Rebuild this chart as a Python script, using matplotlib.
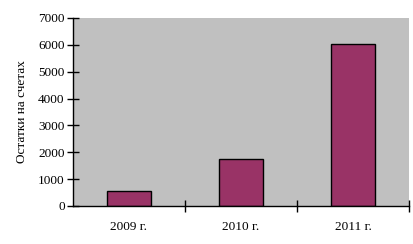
import matplotlib
matplotlib.use("Agg")
import matplotlib.pyplot as plt
from matplotlib.ticker import FixedLocator

categories = ["2009 г.", "2010 г.", "2011 г."]
values = [560, 1750, 6030]
y_ticks = [0, 1000, 2000, 3000, 4000, 5000, 6000, 7000]

plt.rcParams['font.family'] = ['Liberation Serif', 'DejaVu Serif']

fig = plt.figure(figsize=(4.14, 2.44), dpi=100)
ax = fig.add_axes([73/414, 38/244, 336/414, 188/244])
ax.set_facecolor('#C0C0C0')
x = list(range(len(categories)))
ax.bar(x, values, width=0.4, color='#993366', edgecolor='black', linewidth=1)
ax.set_xlim(-0.5, len(categories) - 0.5)
ax.set_ylim(0, 7000)
ax.set_yticks(y_ticks)
ax.set_yticklabels([str(t) for t in y_ticks], fontsize=9.5)
ax.set_xticks(x)
ax.set_xticklabels(categories, fontsize=9.5)
ax.tick_params(axis='x', which='major', length=0, pad=11)
ax.xaxis.set_minor_locator(FixedLocator([i + 0.5 for i in range(len(categories))]))
ax.tick_params(axis='x', which='minor', length=8, direction='inout', width=1)
ax.tick_params(axis='y', length=8, direction='inout', width=1, pad=2)
for s in ['top', 'right']:
    ax.spines[s].set_visible(False)
for s in ['left', 'bottom']:
    ax.spines[s].set_linewidth(1)
ax.set_ylabel("Остатки на счетах", fontsize=9.5, labelpad=7)
fig.savefig("out.png", dpi=100)
